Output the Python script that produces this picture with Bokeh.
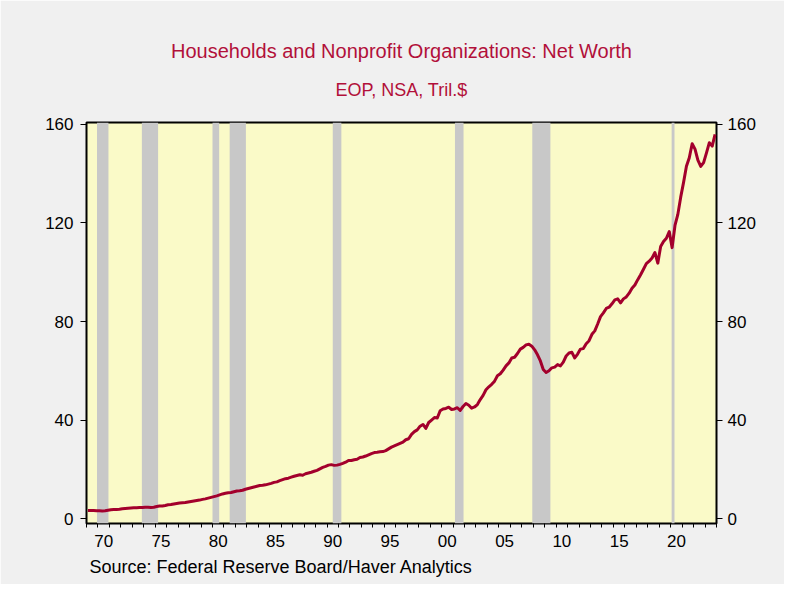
from bokeh.plotting import figure
from bokeh.models import Range1d, LinearAxis, FixedTicker, BoxAnnotation, Title, ColumnDataSource
from bokeh.embed import file_html
from bokeh.resources import INLINE

# Quarterly net worth, trillions of dollars, 1969Q1 .. 2023Q4
first_year = 1969
net_worth = [
    3.3, 3.3, 3.3, 3.2,      # 1969
    3.2, 3.1, 3.2, 3.4,      # 1970
    3.6, 3.7, 3.7, 3.8,      # 1971
    4.0, 4.1, 4.2, 4.3,      # 1972
    4.4, 4.4, 4.5, 4.5,      # 1973
    4.6, 4.6, 4.5, 4.6,      # 1974
    4.9, 5.1, 5.1, 5.3,      # 1975
    5.6, 5.7, 5.9, 6.1,      # 1976
    6.3, 6.4, 6.5, 6.7,      # 1977
    6.9, 7.1, 7.3, 7.5,      # 1978
    7.8, 8.0, 8.3, 8.6,      # 1979
    8.9, 9.2, 9.6, 10.0,     # 1980
    10.3, 10.5, 10.6, 10.9,  # 1981
    11.2, 11.3, 11.5, 11.9,  # 1982
    12.2, 12.5, 12.8, 13.1,  # 1983
    13.4, 13.5, 13.7, 14.0,  # 1984
    14.3, 14.7, 14.9, 15.4,  # 1985
    15.8, 16.2, 16.4, 16.8,  # 1986
    17.2, 17.5, 17.8, 17.6,  # 1987
    18.2, 18.5, 18.8, 19.2,  # 1988
    19.6, 20.2, 20.8, 21.2,  # 1989
    21.7, 21.9, 21.6, 21.7,  # 1990
    22.0, 22.4, 22.9, 23.6,  # 1991
    23.6, 23.9, 24.1, 24.8,  # 1992
    25.0, 25.4, 25.9, 26.4,  # 1993
    26.8, 26.9, 27.1, 27.2,  # 1994
    27.6, 28.3, 29.0, 29.5,  # 1995
    30.0, 30.5, 31.0, 32.0,  # 1996
    32.4, 34.2, 35.3, 36.0,  # 1997
    37.5, 38.2, 36.6, 39.0,  # 1998
    40.0, 41.0, 40.8, 43.8,  # 1999
    44.5, 44.7, 45.2, 44.3,  # 2000
    44.5, 45.0, 43.9, 45.5,  # 2001
    46.7, 46.0, 44.8, 45.3,  # 2002
    46.3, 48.3, 50.0, 52.3,  # 2003
    53.5, 54.5, 55.8, 58.0,  # 2004
    58.8, 60.3, 62.0, 63.2,  # 2005
    65.2, 65.5, 67.0, 68.8,  # 2006
    69.5, 70.5, 70.8, 70.0,  # 2007
    68.5, 66.5, 64.0, 60.5,  # 2008
    59.3, 60.0, 61.2, 61.5,  # 2009
    62.5, 62.0, 63.5, 66.0,  # 2010
    67.2, 67.5, 65.2, 66.8,  # 2011
    68.8, 69.0, 71.0, 72.2,  # 2012
    74.8, 76.2, 79.0, 82.0,  # 2013
    83.5, 85.3, 85.8, 87.2,  # 2014
    88.8, 89.2, 87.6, 89.2,  # 2015
    90.0, 91.5, 93.5, 94.8,  # 2016
    97.0, 99.0, 101.2, 103.5,  # 2017
    104.5, 105.8, 108.0, 103.7,  # 2018
    110.5, 112.5, 113.8, 116.5,  # 2019
    110.0, 119.0, 123.5, 130.5,  # 2020
    136.5, 143.0, 146.5, 152.2,  # 2021
    150.0, 145.5, 143.0, 144.5,  # 2022
    148.5, 152.6, 151.2, 156.0,  # 2023
]

# NBER recessions (peak month, trough month)
recession_start = ["1969-12", "1973-11", "1980-01", "1981-07", "1990-07", "2001-03", "2007-12", "2020-02"]
recession_end = ["1970-11", "1975-03", "1980-07", "1982-11", "1991-03", "2001-11", "2009-06", "2020-04"]

x_major_years = [1970, 1975, 1980, 1985, 1990, 1995, 2000, 2005, 2010, 2015, 2020]
x_tick_labels = ["70", "75", "80", "85", "90", "95", "00", "05", "10", "15", "20"]
tick_years = list(range(1969, 2025))
y_ticks = [0, 40, 80, 120, 160]

title_text = "Households and Nonprofit Organizations: Net Worth"
subtitle_text = "EOP, NSA, Tril.$"
source_text = "Source:  Federal Reserve Board/Haver Analytics"

FONT = "Liberation Sans"
RED_TEXT = "#b2103a"
LINE_RED = "#a3002c"

X0, X1 = 1969.0, 2024.0
Y0, Y1 = -2.0, 160.8

# quarter mid-points
x_vals = [first_year + i // 4 + (i % 4 + 0.5) / 4 for i in range(len(net_worth))]
src = ColumnDataSource(data=dict(x=x_vals, y=net_worth))

def month_pos(s, end=False):
    y, m = s.split("-")
    return int(y) + (int(m) - (0 if end else 1)) / 12

p = figure(width=784, height=584,
           x_range=Range1d(X0, X1), y_range=Range1d(Y0, Y1),
           output_backend="svg", toolbar_location=None, title=None,
           x_axis_type=None, y_axis_type=None,
           min_border_left=86, min_border_right=68, min_border_top=122, min_border_bottom=61,
           background_fill_color="#fafac8", border_fill_color="#f0f0f0",
           outline_line_color="black", outline_line_width=2)

for s, e in zip(recession_start, recession_end):
    p.add_layout(BoxAnnotation(left=month_pos(s), right=month_pos(e, end=True),
                               fill_color="#c8c8c8", fill_alpha=1.0, line_color=None,
                               level="underlay"))

p.line("x", "y", source=src, line_width=3, line_color=LINE_RED, line_join="round")

# bottom axis: labels centred mid-year (range shifted by half a year),
# tick marks at the start of every year drawn as minor ticks
p.extra_x_ranges = {"labels": Range1d(X0 - 0.5, X1 - 0.5)}
ax_x = LinearAxis(x_range_name="labels",
                  ticker=FixedTicker(ticks=x_major_years,
                                     minor_ticks=[yr - 0.5 for yr in tick_years]),
                  major_label_overrides={yr: lab for yr, lab in zip(x_major_years, x_tick_labels)},
                  major_tick_out=0, major_tick_in=0, minor_tick_out=4, minor_tick_in=0,
                  axis_line_color=None, major_tick_line_color=None,
                  minor_tick_line_color="black",
                  major_label_standoff=7, major_label_text_font_size="17px",
                  major_label_text_font=FONT, major_label_text_color="black")
p.add_layout(ax_x, "below")

note = Title(text=source_text, align="left", offset=3, text_font_size="18px",
             text_font=FONT, text_font_style="normal", text_color="black", standoff=10)
p.add_layout(note, "below")

for loc, so in (("left", 7), ("right", 5)):
    ax = LinearAxis(ticker=FixedTicker(ticks=y_ticks, minor_ticks=[]),
                    major_tick_out=6, major_tick_in=0, minor_tick_out=0, minor_tick_in=0,
                    axis_line_color=None, major_tick_line_color="black",
                    major_label_standoff=so, major_label_text_font_size="17px",
                    major_label_text_font=FONT, major_label_text_color="black")
    p.add_layout(ax, loc)

sub = Title(text=subtitle_text, align="center", text_font_size="18px", text_font=FONT,
            text_font_style="normal", text_color=RED_TEXT, standoff=46)
p.add_layout(sub, "above")
main = Title(text=title_text, align="center", text_font_size="20px", text_font=FONT,
             text_font_style="normal", text_color=RED_TEXT, standoff=-14)
p.add_layout(main, "above")

open("out.html", "w").write(file_html(p, INLINE))
